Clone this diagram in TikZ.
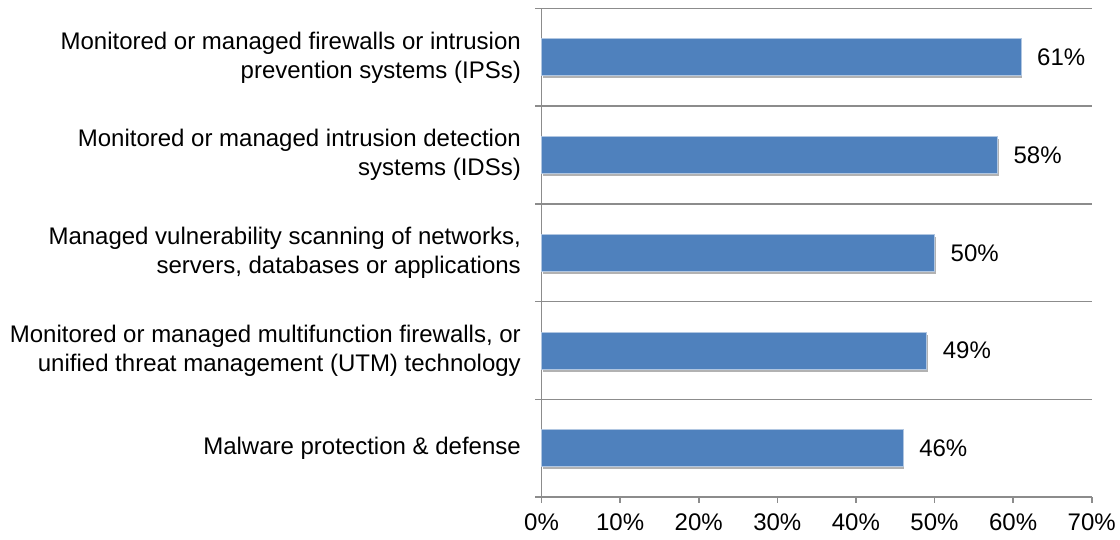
\documentclass[tikz,border=0pt]{standalone}
\usepackage{fontspec}
\setmainfont{Liberation Sans}
\usetikzlibrary{shadows}
\definecolor{barblue}{HTML}{4F81BD}
\definecolor{axisgray}{HTML}{8C8C8C}
\begin{document}
\begin{tikzpicture}[x=1pt,y=-1pt,
  font=\fontsize{24}{29}\selectfont,
  catlabel/.style={anchor=east, align=right, inner sep=0pt},
  vallabel/.style={anchor=west, inner sep=0pt},
  ticklabel/.style={anchor=center, inner sep=0pt},
  axisline/.style={draw=axisgray, line width=1.6pt},
  gridline/.style={draw=axisgray, line width=1.4pt},
  bar/.style={fill=barblue, draw=white!55!barblue, line width=0.8pt,
    drop shadow={shadow xshift=1.2pt, shadow yshift=-2.6pt, opacity=0.3, fill=black}}]
\useasboundingbox (0,0) rectangle (1120,540);
% plot frame: origin x, unit per percent, category height
\def\xo{541.5}
\def\unit{7.86}
\def\ytop{8.5}
\def\cat{97.7}
% horizontal category separators
\foreach \k in {0,...,4}{
  \draw[gridline] (535,{\ytop+\k*\cat}) -- (1092,{\ytop+\k*\cat});
}
% bottom axis with ticks
\draw[axisline] (535,497) -- (1092,497);
\foreach \k in {0,...,7}{
  \draw[axisline] ({\xo+10*\k*\unit},497) -- ({\xo+10*\k*\unit},503);
  \node[ticklabel] (tick\k) at ({\xo+10*\k*\unit},522) {\the\numexpr\k*10\relax\%};
}
% vertical axis
\draw[axisline] (\xo,\ytop) -- (\xo,503);
% bars, values and category labels
\foreach \k/\v/\txt in {
  0/61/{Monitored or managed firewalls or intrusion\\prevention systems (IPSs)},
  1/58/{Monitored or managed intrusion detection\\systems (IDSs)},
  2/50/{Managed vulnerability scanning of networks,\\servers, databases or applications},
  3/49/{Monitored or managed multifunction firewalls, or\\unified threat management (UTM) technology},
  4/46/{Malware protection \& defense}}{
  \pgfmathsetmacro\yc{\ytop+(\k+0.5)*\cat}
  \pgfmathsetmacro\xe{\xo+\v*\unit}
  \path[bar] (\xo,\yc-18.5) rectangle (\xe,\yc+18.5);
  \node[vallabel] (val\k) at (\xe+16,\yc) {\v\%};
  \node[catlabel] (cat\k) at (521,\yc) {\txt};
}
\end{tikzpicture}
\end{document}
